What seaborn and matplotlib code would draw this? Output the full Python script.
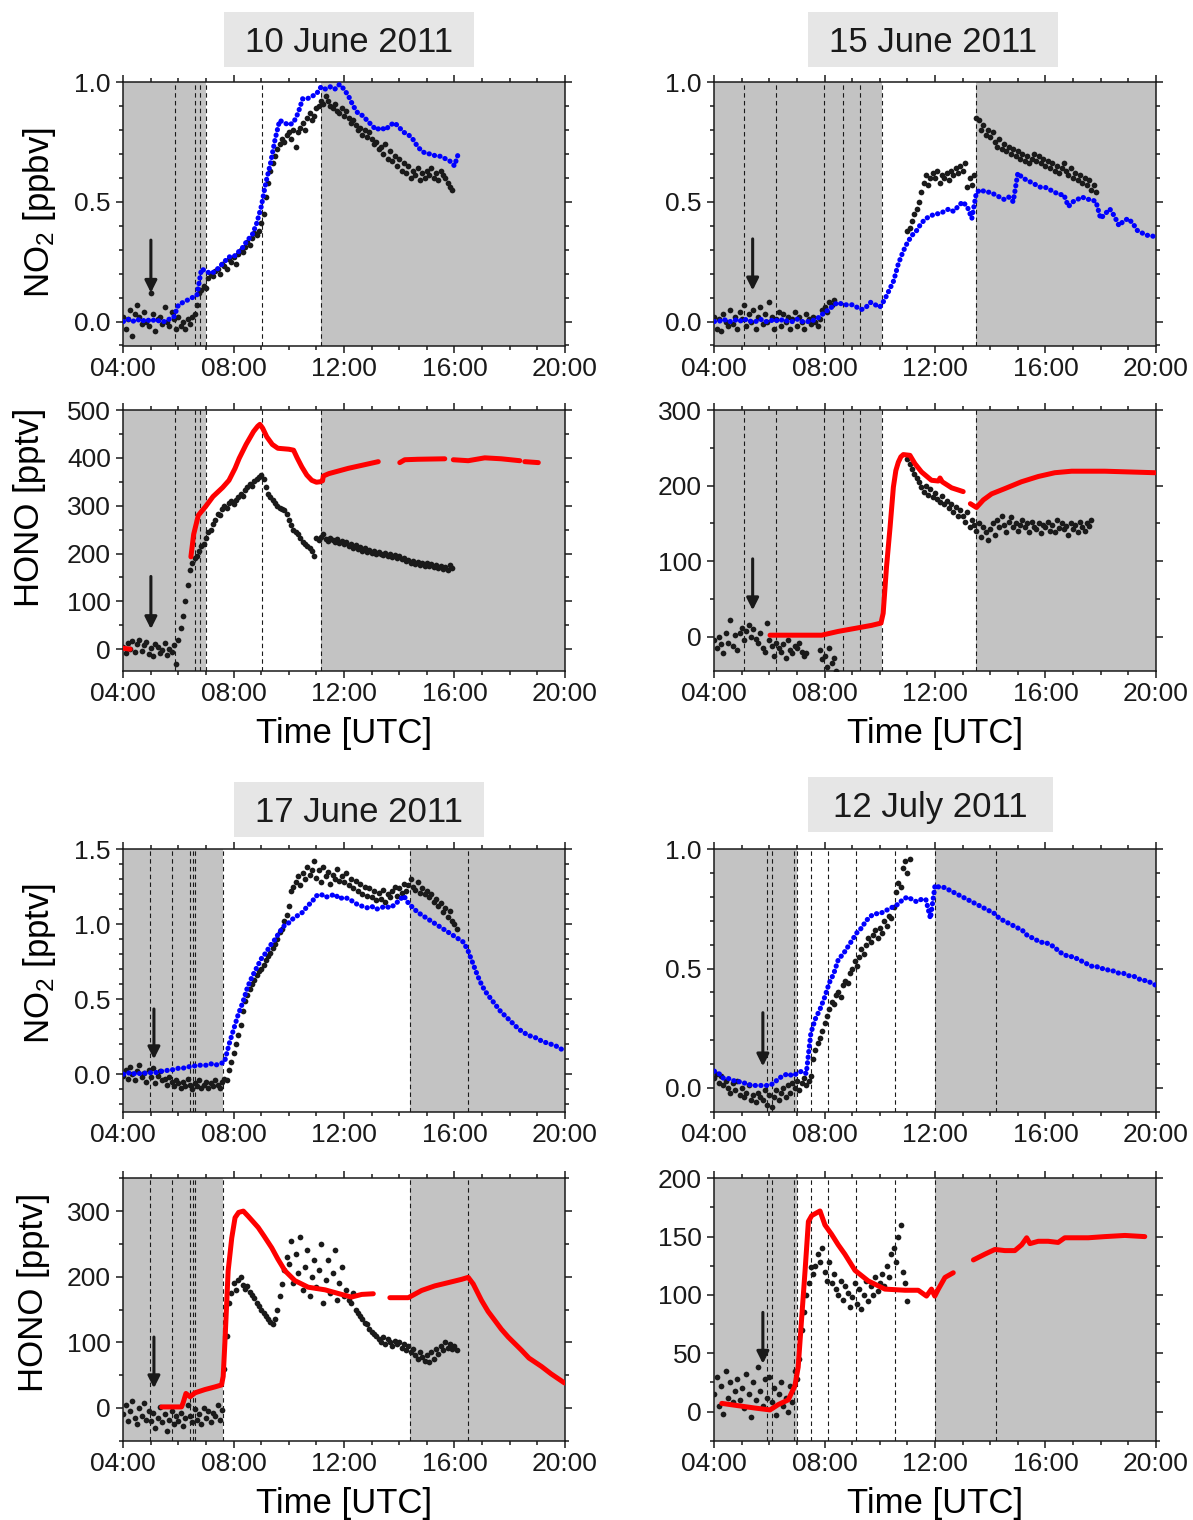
import numpy as np
import pandas as pd
import matplotlib
matplotlib.use("Agg")
import matplotlib.pyplot as plt
from matplotlib.patches import Rectangle
from matplotlib.ticker import MultipleLocator, FixedLocator, FormatStrFormatter
import seaborn as sns

NAN = float("nan")

# ---------------- common time axis ----------------
time_ticks = [4, 8, 12, 16, 20]
time_labels = ["04:00", "08:00", "12:00", "16:00", "20:00"]
T_START = 4.0          # all measured / model series start at 04:00 UTC
MEAS_STEP_MIN = 5      # measured series (black dots): 5-min values
MODEL_STEP_MIN = 10    # modelled NO2 (blue dots): 10-min values

# ================= 10 June 2011 =================
jun10_no2_meas = [
    0.02, -0.03, 0.01, 0.05, -0.06, 0.03, 0.07, 0.02, -0.01, 0.04, 0.00, -0.02,
    0.12, 0.03, -0.04, 0.01, 0.02, -0.01, 0.06, 0.00, -0.02, 0.04, 0.01, -0.03,
    0.02, -0.02, 0.00, -0.03, 0.01, -0.01, 0.02, 0.03, 0.07, 0.12, 0.13, 0.15,
    0.14, 0.18, 0.20, 0.19, 0.21, 0.22, 0.20, 0.24, 0.23, 0.22, 0.26, 0.25,
    0.27, 0.24, 0.28, 0.30, 0.29, 0.31, 0.33, 0.32, 0.35, 0.37, 0.36, 0.38,
    0.41, 0.45, 0.52, 0.58, 0.63, 0.66, 0.69, 0.72, 0.74, 0.76, 0.75, 0.78,
    0.79, 0.76, 0.80, 0.73, 0.79, 0.81, 0.83, 0.80, 0.85, 0.87, 0.84, 0.86,
    0.89, 0.90, 0.92, 0.91, 0.94, 0.92, 0.90, 0.89, 0.91, 0.88, 0.87, 0.89,
    0.86, 0.88, 0.85, 0.83, 0.84, 0.82, 0.80, 0.81, 0.78, 0.80, 0.77, 0.79,
    0.76, 0.74, 0.75, 0.72, 0.73, 0.70, 0.74, 0.68, 0.71, 0.67, 0.69, 0.65,
    0.68, 0.63, 0.66, 0.62, 0.65, 0.60, 0.63, 0.61, 0.64, 0.59, 0.62, 0.60,
    0.63, 0.61, 0.64, 0.60, 0.62, 0.59, 0.63, 0.61, 0.60, 0.58, 0.56, 0.55,
]
jun10_no2_model = [
    0.00, 0.01, 0.00, 0.01, 0.00, 0.01,
    0.00, 0.01, 0.00, 0.00, 0.01, 0.02,
    0.07, 0.08, 0.09, 0.10, 0.11, 0.22,
    0.21, 0.20, 0.21, 0.23, 0.25, 0.27,
    0.27, 0.29, 0.31, 0.34, 0.36, 0.41,
    0.48, 0.58, 0.66, 0.76, 0.84, 0.83,
    0.82, 0.83, 0.87, 0.93, 0.93, 0.94,
    0.95, 0.98, 0.97, 0.98, 0.97, 0.99,
    0.97, 0.94, 0.90, 0.87, 0.86, 0.84,
    0.82, 0.80, 0.81, 0.80, 0.82, 0.83,
    0.81, 0.79, 0.78, 0.76, 0.73, 0.71,
    0.70, 0.70, 0.69, 0.69, 0.68, 0.67,
    0.65, 0.71,
]
jun10_hono_meas = [
    5, -8, 12, 0, 18, -5, 10, 20, -3, 8, 15, -10,
    2, -15, 10, 5, -8, -2, 12, -12, 0, -5, 8, -30,
    20, 45, 70, 100, 135, 165, 180, 190, 195, 205, 215, 220,
    232, 245, 250, 262, 270, 283, 280, 292, 300, 295, 305, 310,
    304, 312, 318, 325, 320, 332, 338, 345, 342, 352, 355, 360,
    365, 355, 340, 325, 318, 312, 305, 300, 295, 292, 290, 282,
    270, 260, 250, 245, 240, 232, 225, 220, 215, 212, 205, 195,
    232, 228, 235, 240, 230, 226, 232, 228, 224, 230, 222, 226,
    220, 224, 216, 220, 212, 218, 210, 214, 206, 212, 204, 208,
    202, 206, 198, 204, 200, 196, 202, 194, 198, 192, 196, 190,
    194, 188, 190, 184, 186, 180, 184, 178, 182, 176, 180, 174,
    180, 174, 178, 172, 176, 170, 174, 168, 172, 166, 176, 170,
]
jun10_hono_model_t = [4.0, 4.25, NAN, 6.45, 6.55, 6.72, 6.98, 7.25, 7.6, 7.83, 8.05, 8.2,
                      8.45, 8.72, 8.87, 8.95, 9.05, 9.2, 9.4, 9.6, 10.0, 10.17, 10.3,
                      10.47, 10.65, 10.83, 11.0, 11.13, 11.22, 11.25, 11.45, 12.15,
                      13.24, NAN, 14.02, 14.2, 14.67, 15.65, NAN, 15.96, 16.5, 17.1, 17.7,
                      18.37, NAN, 18.55, 19.04]
jun10_hono_model = [2, 0, NAN, 193, 240, 280, 298, 319, 338, 353, 378, 399,
                    428, 455, 466, 470, 462, 444, 428, 420, 418, 416, 400,
                    381, 364, 353, 349, 350, 352, 362, 367, 378,
                    392, NAN, 390, 396, 397, 398, NAN, 396, 394, 400, 398,
                    394, NAN, 392, 390]

# ================= 15 June 2011 =================
jun15_no2_meas = (
    [0.02, -0.03, 0.01, -0.04, 0.03, 0.00, -0.02, 0.05, -0.01, 0.02, -0.03, 0.04,
     0.01, 0.07, -0.02, 0.03, 0.00, 0.05, -0.03, 0.02, 0.06, -0.01, 0.03, 0.00,
     0.08, 0.02, -0.03, 0.01, 0.04, -0.02, 0.03, 0.00, 0.02, -0.03, 0.01, 0.04,
     -0.02, 0.02, 0.00, -0.03, 0.03, 0.01, -0.01, 0.02, 0.00, -0.02, 0.01, 0.05,
     0.06, 0.04, 0.08, 0.07, 0.09]
    + [NAN] * 31 +
    [0.38, 0.39, 0.42, 0.45, 0.47, 0.50, 0.54, 0.58, 0.61, 0.57, 0.60, 0.62,
     0.60, 0.63, 0.58, 0.61, 0.60, 0.62, 0.59, 0.63, 0.61, 0.64, 0.62, 0.65,
     0.63, 0.66, 0.56, 0.60, 0.57, 0.61, 0.85, 0.84, 0.80, 0.82, 0.78, 0.80,
     0.77, 0.79, 0.75, 0.73, 0.76, 0.72, 0.74, 0.71, 0.73, 0.70, 0.72, 0.69,
     0.71, 0.68, 0.70, 0.67, 0.69, 0.66, 0.68, 0.70, 0.67, 0.69, 0.66, 0.68,
     0.65, 0.67, 0.64, 0.66, 0.63, 0.65, 0.62, 0.64, 0.66, 0.63, 0.61, 0.64,
     0.60, 0.62, 0.59, 0.61, 0.58, 0.60, 0.57, 0.59, 0.55, 0.57, 0.54]
)
jun15_no2_model = [
    0.00, 0.00, 0.01, 0.00, 0.00, 0.01,
    0.00, 0.01, 0.00, 0.00, 0.01, 0.00,
    0.00, 0.01, 0.00, 0.01, 0.00, 0.00,
    0.01, 0.00, 0.00, 0.00, 0.01, 0.02,
    0.04, 0.05, 0.07, 0.08, 0.07, 0.07,
    0.07, 0.06, 0.05, 0.06, 0.08, 0.07,
    0.06, 0.09, 0.13, 0.17, 0.24, 0.29,
    0.33, 0.36, 0.38, 0.41, 0.43, 0.44,
    0.45, 0.45, 0.46, 0.47, 0.46, 0.48,
    0.50, 0.48, 0.43, 0.54, 0.55, 0.54,
    0.54, 0.53, 0.52, 0.51, 0.52, 0.50,
    0.62, 0.60, 0.59, 0.58, 0.57, 0.56,
    0.56, 0.55, 0.54, 0.53, 0.53, 0.48,
    0.50, 0.51, 0.52, 0.51, 0.51, 0.50,
    0.43, 0.45, 0.47, 0.44, 0.40, 0.42,
    0.43, 0.41, 0.38, 0.37, 0.36, 0.36,
    0.35,
]
jun15_hono_meas = (
    [-5, -15, 0, -10, -22, 5, -8, 22, -12, 2, -18, 5,
     12, -5, 8, 15, 0, 10, -3, -8, 5, -15, -20, 18,
     -5, -12, -25, -8, -15, -20, -10, -28, -5, -18, -22, -12,
     -15, -8, -20, -25, -22, NAN, NAN, NAN, NAN, NAN, -18, -30,
     -25, -40, -15, -35, -28, -45]
    + [NAN] * 30 +
    [235, 228, 222, 215, 210, 205, 198, 192, 200, 188, 195, 185,
     190, 182, 178, 186, 175, 180, 170, 176, 165, 172, 160, 168,
     160, 152, 165, 145, 155, 148, 140, 150, 132, 145, 138, 128,
     142, 150, 135, 155, 145, 160, 148, 138, 152, 158, 145, 150,
     140, 148, 155, 145, 150, 138, 152, 145, 142, 150, 137, 148,
     145, 152, 140, 148, 138, 155, 144, 150, 142, 147, 135, 150,
     143, 148, 138, 152, 145, 140, 150, 147, 155]
)
jun15_hono_model_t = [6.02, 7.89, 8.49, 9.1, 9.7, 10.04, 10.12, 10.24, 10.37, 10.49, 10.58,
                      10.67, 10.76, 10.85, 11.09, 11.27, 11.51, 11.87, 12.12, 12.18, 12.26,
                      12.6, 13.02, NAN, 13.28, 13.5, 13.75, 14.05, 14.53, 15.13, 15.74,
                      16.34, 16.95, 18.15, 19.97]
jun15_hono_model = [2, 2, 7, 11, 15, 18, 31, 92, 145, 198, 220,
                    231, 238, 241, 240, 229, 218, 207, 206, 210, 205,
                    197, 192, NAN, 176, 171, 181, 189, 196, 205, 212,
                    217, 219, 219, 217]

# ================= 17 June 2011 =================
jun17_no2_meas = [
    -0.01, 0.03, -0.03, 0.05, 0.00, -0.04, 0.02, 0.06, -0.02, 0.01, -0.05, 0.03,
    -0.02, 0.04, -0.06, -0.01, 0.02, -0.04, -0.03, -0.07, -0.02, -0.05, -0.08, -0.04,
    -0.06, -0.09, -0.05, -0.08, -0.03, -0.07, -0.10, -0.06, -0.08, -0.04, -0.09, -0.07,
    -0.05, -0.09, -0.06, -0.08, -0.04, -0.07, -0.09, -0.05, -0.03, -0.04, 0.03, 0.08,
    0.14, 0.20, 0.26, 0.33, 0.42, 0.49, 0.53, 0.57, 0.60, 0.63, 0.66, 0.69,
    0.70, 0.73, 0.76, 0.79, 0.81, 0.84, 0.87, 0.90, 0.95, 0.97, 1.02, 1.06,
    1.12, 1.22, 1.25, 1.28, 1.32, 1.26, 1.34, 1.30, 1.38, 1.33, 1.36, 1.42,
    1.31, 1.36, 1.28, 1.38, 1.32, 1.35, 1.27, 1.33, 1.30, 1.37, 1.29, 1.32,
    1.28, 1.34, 1.26, 1.30, 1.24, 1.29, 1.22, 1.27, 1.20, 1.25, 1.19, 1.24,
    1.18, 1.22, 1.16, 1.21, 1.17, 1.23, 1.15, 1.20, 1.18, 1.22, 1.25, 1.19,
    1.24, 1.21, 1.27, 1.22, 1.26, 1.30, 1.25, 1.23, 1.28, 1.21, 1.24, 1.20,
    1.22, 1.18, 1.20, 1.15, 1.17, 1.12, 1.14, 1.08, 1.11, 1.05, 1.09, 1.02,
    1.00, 0.97,
]
jun17_no2_model = [
    0.00, 0.01, 0.00, 0.01, 0.00, 0.01,
    0.01, 0.01, 0.02, 0.02, 0.03, 0.03,
    0.04, 0.04, 0.05, 0.05, 0.06, 0.06,
    0.06, 0.07, 0.06, 0.07, 0.08, 0.20,
    0.30, 0.40, 0.48, 0.58, 0.65, 0.71,
    0.77, 0.81, 0.86, 0.90, 0.95, 0.99,
    1.01, 1.04, 1.06, 1.08, 1.12, 1.15,
    1.19, 1.20, 1.18, 1.19, 1.20, 1.17,
    1.18, 1.17, 1.15, 1.13, 1.12, 1.11,
    1.12, 1.10, 1.11, 1.12, 1.11, 1.13,
    1.16, 1.19, 1.14, 1.11, 1.08, 1.06,
    1.04, 1.02, 1.00, 0.98, 0.96, 0.94,
    0.92, 0.90, 0.88, 0.82, 0.74, 0.66,
    0.59, 0.54, 0.50, 0.46, 0.42, 0.39,
    0.36, 0.33, 0.30, 0.28, 0.26, 0.25,
    0.24, 0.22, 0.21, 0.20, 0.19, 0.17,
    0.16,
]
jun17_hono_meas = [
    -10, 5, -20, -5, 10, -15, -25, 0, -12, 8, -18, -5,
    -20, -8, -30, -15, 2, -22, -10, -35, -18, -5, -25, -12,
    -20, -8, -28, -15, 5, -12, -22, -2, -18, -10, -25, 0,
    -15, -5, -22, -8, -12, 5, -18, -3, 60, 110, 160, 175,
    190, 180, 195, 200, 188, 182, 186, 176, 172, 168, 160, 155,
    150, 145, 140, 135, 131, 128, 135, 149, 170, 189, 210, 230,
    220, 255, 190, 235, 205, 260, 180, 215, 240, 170, 200, 225,
    185, 210, 250, 160, 195, 225, 175, 205, 240, 165, 190, 215,
    170, 180, 165, 160, 175, 150, 145, 140, 135, 130, 128, 120,
    115, 112, 110, 105, 100, 108, 98, 105, 100, 95, 102, 97,
    100, 92, 98, 88, 95, 85, 90, 80, 75, 85, 78, 72,
    80, 70, 85, 75, 90, 82, 95, 88, 100, 92, 98, 90,
    95, 88,
]
jun17_hono_model_t = [5.39, 6.11, 6.17, 6.27, 6.42, 6.6, 6.96, 7.32, 7.56, 7.62, 7.68, 7.8,
                      7.93, 8.05, 8.18, 8.35, 8.53, 8.7, 8.89, 9.1, 9.38, 9.6, 9.86, 10.22,
                      10.7, 11.31, 11.91, 12.27, 12.64, 13.06, NAN, 13.66, 14.33, 14.81,
                      15.29, 15.78, 16.26, 16.5, 16.68, 16.98, 17.22, 17.47, 17.7, 17.95,
                      18.43, 18.7, 19.16, 19.5, 19.99]
jun17_hono_model = [1.5, 1.5, 8, 22, 17, 23, 28, 32, 35, 48, 98, 209,
                    259, 290, 298, 300, 292, 284, 275, 262, 244, 227, 209, 194,
                    184, 180, 173, 169, 173, 174, NAN, 168, 168, 179,
                    186, 191, 196, 199, 189, 164, 147, 133, 120, 108,
                    88, 76, 63, 52, 38]

# ================= 12 July 2011 =================
jul12_no2_meas = [
    0.04, 0.06, 0.02, 0.05, 0.01, 0.03, 0.00, -0.02, 0.02, -0.01, 0.03, -0.03,
    0.00, -0.04, -0.02, 0.01, -0.05, -0.03, -0.06, -0.02, -0.04, -0.05, -0.01, -0.07,
    -0.03, -0.08, -0.04, -0.01, -0.05, -0.02, 0.00, -0.04, 0.01, -0.02, 0.02, 0.00,
    0.03, -0.01, 0.02, 0.04, 0.01, 0.03, 0.05, 0.12, 0.16, 0.19, 0.21, 0.24,
    0.27, 0.30, 0.33, 0.36, 0.35, 0.39, 0.40, 0.38, 0.43, 0.45, 0.44, 0.48,
    0.50, 0.53, 0.51, 0.55, 0.58, 0.56, 0.60, 0.63, 0.61, 0.64, 0.66, 0.63,
    0.67, 0.65, 0.70, 0.68, 0.72, 0.71, 0.76, 0.82, 0.86, 0.84, 0.92, 0.95,
    0.90, 0.96,
]
jul12_no2_model = [
    0.07, 0.06, 0.04, 0.04, 0.03, 0.03,
    0.02, 0.02, 0.01, 0.01, 0.01, 0.01,
    0.01, 0.02, 0.04, 0.05, 0.06, 0.05,
    0.06, 0.07, 0.06, 0.23, 0.29, 0.33,
    0.38, 0.44, 0.48, 0.54, 0.56, 0.59,
    0.62, 0.65, 0.67, 0.70, 0.72, 0.73,
    0.73, 0.74, 0.75, 0.76, 0.77, 0.79,
    0.80, 0.79, 0.78, 0.79, 0.79, 0.71,
    0.85, 0.84, 0.84, 0.83, 0.82, 0.81,
    0.80, 0.79, 0.78, 0.77, 0.76, 0.75,
    0.74, 0.73, 0.71, 0.70, 0.69, 0.68,
    0.67, 0.66, 0.64, 0.63, 0.62, 0.61,
    0.61, 0.60, 0.59, 0.57, 0.56, 0.55,
    0.55, 0.54, 0.53, 0.52, 0.51, 0.51,
    0.50, 0.50, 0.49, 0.49, 0.48, 0.48,
    0.47, 0.47, 0.46, 0.45, 0.45, 0.44,
    0.43,
]
jul12_hono_meas = [
    15, 30, 5, 22, -2, 35, 12, 25, 8, 18, 28, 10,
    20, 3, 32, 15, -5, 25, 10, 38, 18, 5, 28, 12,
    30, 8, 20, -3, 15, 25, 5, 12, 0, 22, 8, 35,
    28, 45, 70, 85, 100, 110, 124, 118, 125, 135, 128, 140,
    120, 112, 128, 110, 118, 105, 100, 112, 96, 108, 102, 90,
    98, 110, 92, 105, 88, 100, 112, 95, 108, 100, 115, 103,
    110, 118, 108, 125, 115, 135, 140, 128, 150, 160, 120, 110,
    95,
]
jul12_hono_model_t = [4.27, 4.87, 5.47, 6.02, 6.32, 6.68, 6.92, 7.04, 7.16, 7.29, 7.41, 7.53,
                      7.83, 8.01, 8.25, 8.49, 8.73, 9.1, 9.58, 10.18, 10.91, 11.39, 11.69,
                      11.87, 11.99, 12.12, 12.36, 12.66, NAN, 13.39, 13.81, 14.17, 14.53,
                      14.89, 15.14, 15.32, 15.44, 15.74, 16.1, 16.46, 16.7, 17.55, 18.15,
                      18.88, 19.6]
jul12_hono_model = [7, 5, 3, 1.4, 6, 10, 22, 38, 78, 121, 163, 168,
                    172, 160, 152, 143, 135, 121, 112, 105, 104, 104, 99,
                    105, 99, 105, 115, 119, NAN, 130, 135, 139, 138,
                    138, 143, 149, 144, 146, 146, 145, 149, 149, 150,
                    151, 150]

# ---------------- annotations (night shading, dashed event lines, arrows) ----------------
titles = ["10 June 2011", "15 June 2011", "17 June 2011", "12 July 2011"]
night_spans = [
    [(4.0, 7.0), (11.17, 20.0)],
    [(4.0, 10.06), (13.48, 20.0)],
    [(4.0, 7.62), (14.39, 20.0)],
    [(4.0, 6.98), (12.0, 20.0)],
]
event_lines = [
    [5.89, 6.61, 6.79, 7.0, 9.03, 11.17],
    [5.09, 6.25, 7.99, 8.67, 9.29, 10.06, 13.48],
    [4.97, 5.75, 6.43, 6.51, 6.61, 7.62, 14.39, 16.5],
    [5.9, 6.08, 6.9, 6.98, 7.5, 8.13, 9.12, 10.55, 12.0, 14.21],
]
arrow_time = [5.0, 5.39, 5.11, 5.76]
no2_arrow = [(0.34, 0.12), (0.345, 0.13), (0.435, 0.10), (0.315, 0.09)]
hono_arrow = [(152, 42), (103, 35), (108, 30), (85, 41)]

no2_meas = [jun10_no2_meas, jun15_no2_meas, jun17_no2_meas, jul12_no2_meas]
no2_model = [jun10_no2_model, jun15_no2_model, jun17_no2_model, jul12_no2_model]
hono_meas = [jun10_hono_meas, jun15_hono_meas, jun17_hono_meas, jul12_hono_meas]
hono_model_t = [jun10_hono_model_t, jun15_hono_model_t, jun17_hono_model_t, jul12_hono_model_t]
hono_model = [jun10_hono_model, jun15_hono_model, jun17_hono_model, jul12_hono_model]

no2_ylabel = [r"NO$_\mathregular{2}$ [ppbv]", None, r"NO$_\mathregular{2}$ [pptv]", None]
no2_ylim = [(-0.1, 1.0), (-0.1, 1.0), (-0.25, 1.5), (-0.1, 1.0)]
no2_major = [0.5, 0.5, 0.5, 0.5]
hono_ylim = [(-45, 500), (-45, 300), (-50, 350), (-25, 200)]
hono_major = [100, 100, 100, 50]
hono_minor = [50, 50, 50, 25]

# ---------------- style ----------------
sns.set_theme(style="ticks")
plt.rcParams["font.family"] = ["Liberation Sans", "DejaVu Sans"]
plt.rcParams["mathtext.fontset"] = "custom"
plt.rcParams["mathtext.rm"] = "Liberation Sans"
plt.rcParams["mathtext.it"] = "Liberation Sans:italic"
plt.rcParams["axes.linewidth"] = 1.1
for key in ["text.color", "axes.labelcolor", "xtick.color", "ytick.color", "axes.edgecolor"]:
    plt.rcParams[key] = "black"

GRAY = "#C3C3C3"
BLUE = "#0000FF"
RED = "#FF0000"

W, H = 1193, 1520
fig = plt.figure(figsize=(W / 100, H / 100), dpi=100)

col_left = [123.3 / W, 714.3 / W]
col_w = 441.5 / W
no2_rows = [(82.0, 345.5), (849.3, 1111.7)]
hono_rows = [(410.0, 670.7), (1178.3, 1440.7)]
title_boxes = [(224, 12, 250, 55), (808, 12, 250, 55), (234, 782, 250, 55), (808, 777, 245, 55)]
no2_label_pos = [(-0.147, 0.506), None, (-0.147, 0.567), None]
hono_label_pos = [(-0.176, 0.628), None, (-0.165, 0.567), None]


def frame_from(t, v):
    t = np.asarray(t, float)
    v = np.asarray(v, float)
    gap = np.isnan(t) | np.isnan(v)
    df = pd.DataFrame({"t": t, "v": v, "seg": np.cumsum(gap)})
    return df[~gap]


def regular(values, step_min):
    v = np.asarray(values, float)
    t = T_START + step_min / 60.0 * np.arange(len(v))
    return t, v


def style_axis(ax, i, ylim, major, minor, fmt):
    for a, b in night_spans[i]:
        ax.axvspan(a, b, color=GRAY, lw=0, zorder=0)
    for x in event_lines[i]:
        ax.axvline(x, color="k", lw=0.8, ls=(0, (4, 3)), zorder=1)
    ax.set_xlim(4, 20)
    ax.set_ylim(*ylim)
    ax.xaxis.set_major_locator(FixedLocator(time_ticks))
    ax.set_xticklabels(time_labels)
    ax.xaxis.set_minor_locator(MultipleLocator(1))
    ax.yaxis.set_major_locator(MultipleLocator(major))
    ax.yaxis.set_minor_locator(MultipleLocator(minor))
    ax.yaxis.set_major_formatter(FormatStrFormatter(fmt))
    ax.tick_params(which="both", direction="out", top=True, right=True, width=1.1,
                   labelsize=19, colors="k")
    ax.tick_params(which="major", length=5, pad=3)
    ax.tick_params(which="minor", length=3)
    ax.tick_params(axis="y", which="major", pad=4)
    for s in ax.spines.values():
        s.set_visible(True)
        s.set_linewidth(1.1)
        s.set_color("k")
    ax.set_xlabel("")
    ax.set_ylabel("")


def arrow(ax, x, y0, y1):
    ax.annotate("", xy=(x, y1), xytext=(x, y0),
                arrowprops=dict(arrowstyle="-|>", color="k", lw=2.2, mutation_scale=18,
                                shrinkA=0, shrinkB=0), zorder=6)


for i in range(4):
    col = i % 2
    row = i // 2
    left = col_left[col]

    # ---- NO2 axis ----
    top, bot = no2_rows[row]
    ax1 = fig.add_axes([left, 1 - bot / H, col_w, (bot - top) / H])
    t, v = regular(no2_meas[i], MEAS_STEP_MIN)
    sns.scatterplot(x=t, y=v, ax=ax1, color="k", s=17, linewidth=0, alpha=1, zorder=3)
    tm, vm = regular(no2_model[i], MODEL_STEP_MIN)
    dfm = frame_from(tm, vm)
    sns.lineplot(data=dfm, x="t", y="v", units="seg", estimator=None, sort=False, ax=ax1,
                 color=BLUE, lw=3.7, linestyle=(0, (0.05, 1.05)), dash_capstyle="round",
                 zorder=4)
    style_axis(ax1, i, no2_ylim[i], no2_major[i], 0.1, "%.1f")
    arrow(ax1, arrow_time[i], *no2_arrow[i])
    if no2_ylabel[i]:
        ax1.set_ylabel(no2_ylabel[i], fontsize=25)
        ax1.yaxis.set_label_coords(*no2_label_pos[i])

    # ---- HONO axis ----
    top, bot = hono_rows[row]
    ax2 = fig.add_axes([left, 1 - bot / H, col_w, (bot - top) / H])
    t, v = regular(hono_meas[i], MEAS_STEP_MIN)
    sns.scatterplot(x=t, y=v, ax=ax2, color="k", s=17, linewidth=0, alpha=1, zorder=3)
    dfr = frame_from(hono_model_t[i], hono_model[i])
    sns.lineplot(data=dfr, x="t", y="v", units="seg", estimator=None, sort=False, ax=ax2,
                 color=RED, lw=3.6, zorder=4)
    style_axis(ax2, i, hono_ylim[i], hono_major[i], hono_minor[i], "%d")
    arrow(ax2, arrow_time[i], *hono_arrow[i])
    ax2.set_xlabel("Time [UTC]", fontsize=25)
    ax2.xaxis.set_label_coords(0.5, -0.176)
    if hono_label_pos[i]:
        ax2.set_ylabel("HONO [pptv]", fontsize=25)
        ax2.yaxis.set_label_coords(*hono_label_pos[i])

    # ---- date box ----
    bx, by, bw, bh = title_boxes[i]
    fig.patches.append(Rectangle((bx / W, 1 - (by + bh) / H), bw / W, bh / H,
                                 transform=fig.transFigure, fc="#E6E6E6", ec="none", zorder=0))
    fig.text((bx + bw / 2) / W, 1 - (by + bh / 2) / H, titles[i], ha="center",
             va="center_baseline", fontsize=25, color="k")

fig.savefig("out.png", dpi=100)
